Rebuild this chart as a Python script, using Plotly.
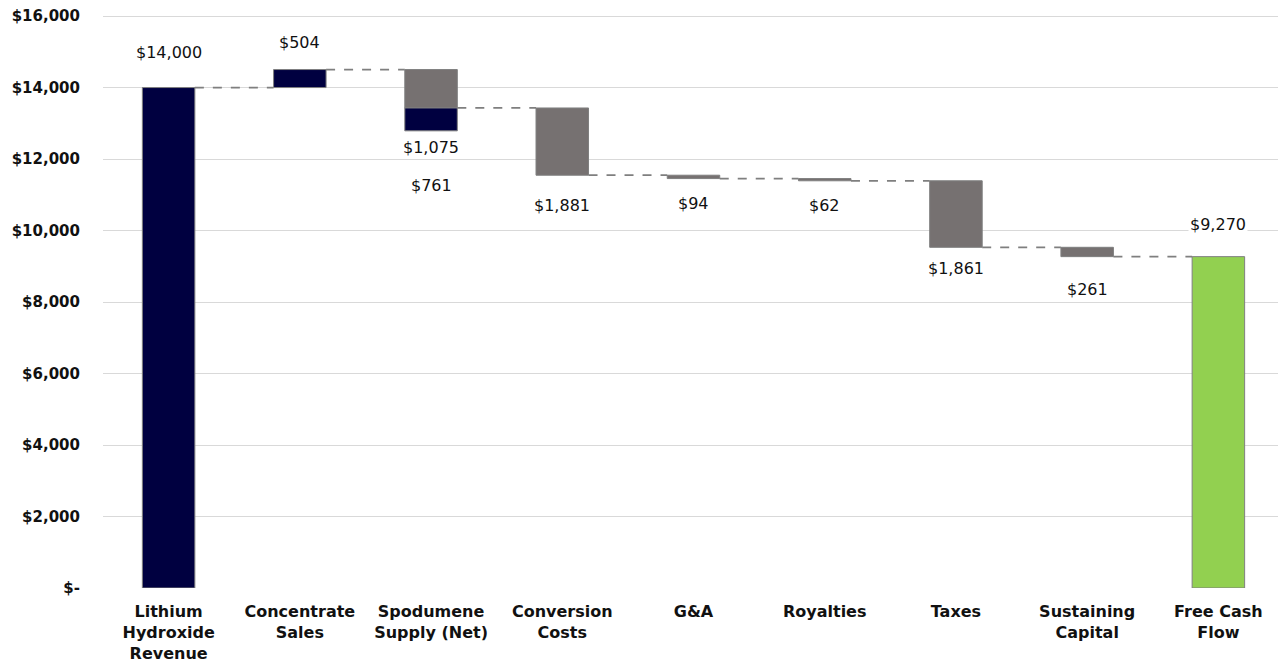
import plotly.graph_objects as go

categories = ["Lithium<br>Hydroxide<br>Revenue", "Concentrate<br>Sales", "Spodumene<br>Supply (Net)",
              "Conversion<br>Costs", "G&A", "Royalties", "Taxes", "Sustaining<br>Capital", "Free Cash<br>Flow"]
# step values (positive = increase, negative = decrease); first is start, last is total
steps = [14000, 504, -1075, -1881, -94, -62, -1861, -261, 9270]
kinds = ["absolute", "relative", "relative", "relative", "relative", "relative", "relative", "relative", "total"]
labels = ["$14,000", "$504", "$1,075", "$1,881", "$94", "$62", "$1,861", "$261", "$9,270"]
# Spodumene credit segment (navy) shown below the net cost bar
spod_credit_label = "$761"
spod_credit_drawn = 640

NAVY = "#000040"
GRAY = "#767171"
GREEN = "#92d050"
FONT = "DejaVu Sans"
TXT = "#111111"

bases, heights, colors, ends = [], [], [], []
running = 0
for s, k in zip(steps, kinds):
    if k == "absolute" or k == "total":
        base, h = 0, s
        running = s
        col = NAVY if k == "absolute" else GREEN
    else:
        start = running
        running = running + s
        base = min(start, running)
        h = abs(s)
        col = NAVY if s > 0 else GRAY
    bases.append(base)
    heights.append(h)
    colors.append(col)
    ends.append(running)

xs = list(range(len(categories)))
fig = go.Figure()
fig.add_trace(go.Bar(x=xs, y=heights, base=bases, width=0.4,
                     marker=dict(color=colors, line=dict(color="#7f7f7f", width=1)),
                     hoverinfo="skip", showlegend=False))
spod_i = 2
fig.add_trace(go.Bar(x=[spod_i], y=[spod_credit_drawn], base=[ends[spod_i] - spod_credit_drawn], width=0.4,
                     marker=dict(color=NAVY, line=dict(color="#7f7f7f", width=1)),
                     hoverinfo="skip", showlegend=False))

# connectors
for i in range(len(categories) - 1):
    fig.add_shape(type="line", xref="x", yref="y", x0=i + 0.2, x1=i + 0.8, y0=ends[i], y1=ends[i],
                  line=dict(color="#7f7f7f", width=1.8, dash="dash"), layer="above")

# data labels
tops = [b + h for b, h in zip(bases, heights)]
label_pos = []
for i in range(len(categories)):
    if kinds[i] == "relative" and steps[i] < 0:
        label_pos.append((bases[i], -1))
    else:
        label_pos.append((tops[i], 1))
shifts = [35, 27, 0, 30, 25, 25, 21, 33, 32]
label_font = dict(family=FONT, size=16, color=TXT)
for i, (lab, (yv, d)) in enumerate(zip(labels, label_pos)):
    if i == spod_i:
        yv = ends[spod_i] - spod_credit_drawn
        fig.add_annotation(x=i, y=yv, text=lab, showarrow=False, yshift=-17, font=label_font,
                           bgcolor="white", yanchor="middle")
        fig.add_annotation(x=i, y=yv, text=spod_credit_label, showarrow=False, yshift=-55, font=label_font,
                           bgcolor="white", yanchor="middle")
        continue
    fig.add_annotation(x=i, y=yv, text=lab, showarrow=False, yshift=d * shifts[i], font=label_font,
                       bgcolor="white", yanchor="middle")

tickvals = list(range(0, 16001, 2000))
ticktext = ["$-"] + [f"${v:,}" for v in tickvals[1:]]

fig.update_layout(
    width=1278, height=662,
    margin=dict(l=95, r=2, t=7, b=82),
    plot_bgcolor="white", paper_bgcolor="white",
    barmode="overlay",
    font=dict(family=FONT, size=16, color=TXT),
    xaxis=dict(tickvals=xs, ticktext=[f"<b>{c}</b>" for c in categories], range=[-0.5, len(categories) - 0.5],
               showgrid=False, zeroline=False, showline=False, ticks="", automargin=False,
               ticklabelstandoff=12,
               tickfont=dict(family=FONT, size=16, color=TXT)),
    yaxis=dict(range=[0, 16030], tickvals=tickvals, ticktext=[f"<b>{t}</b>" for t in ticktext],
               showgrid=True, gridcolor="#d9d9d9", gridwidth=1, zeroline=False, showline=False,
               automargin=False, ticklabelstandoff=22, ticklabeloverflow="allow",
               tickfont=dict(family=FONT, size=15, color=TXT)),
)

fig.write_html("out.html")
